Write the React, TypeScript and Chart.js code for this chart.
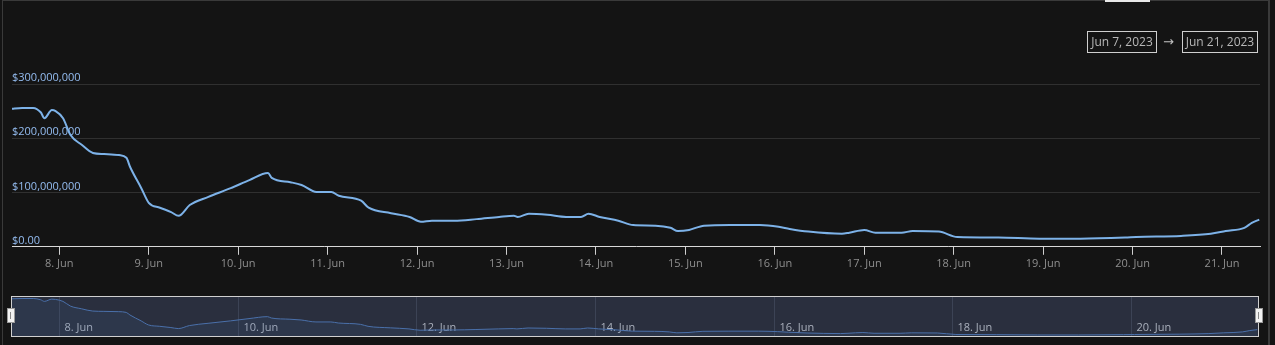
import React, { useEffect, useRef } from 'react';
import { Chart, registerables } from 'chart.js';

Chart.register(...registerables);

// Time axis: hours since Jun 7, 2023 00:00
const hours = [11, 14, 17, 19, 20, 22, 23, 25, 27, 30, 33, 36, 40, 42, 43, 46, 48, 51, 54, 56, 59, 64, 70, 75, 80, 81, 86, 89, 93, 97, 99, 105, 107, 113, 118, 121, 124, 130, 136, 142, 146, 147, 150, 155, 160, 164, 166, 169, 174, 178, 184, 188, 190, 193, 197, 204, 212, 217, 220, 225, 234, 236, 240, 243, 250, 253, 260, 265, 276, 287, 298, 310, 313, 325, 333, 337, 342, 344, 346];
// Values in millions of USD
const tvlMillions = [254, 256, 256, 248, 237, 252, 250, 237, 206, 188, 173, 171, 169, 164, 147, 108, 81, 72, 64, 57, 77, 92, 108, 123, 136, 127, 119, 114, 101, 101, 94, 85, 72, 62, 55, 46, 48, 48, 51, 55, 57, 55, 61, 59, 55, 55, 61, 55, 48, 40, 39, 35, 29, 31, 39, 40, 40, 37, 33, 28, 24, 26, 31, 26, 26, 29, 28, 18, 17, 15, 15, 17, 18, 20, 24, 29, 35, 44, 50];

const X_MIN = 11.3;
const X_MAX = 346.2;
const dayTickHours = [24, 48, 72, 96, 120, 144, 168, 192, 216, 240, 264, 288, 312, 336];
const navTickHours = [24, 72, 120, 168, 216, 264, 312];
const yTicks = [0, 100, 200, 300];
const startLabel = 'Jun 7, 2023';
const endLabel = 'Jun 21, 2023';

const LINE = '#7db2e8';
const FONT = '"Open Sans", "Noto Sans", sans-serif';

const dayLabel = (h: number) => `${7 + Math.round(h / 24)}. Jun`;

export default function App() {
  const mainRef = useRef<HTMLCanvasElement>(null);
  const navRef = useRef<HTMLCanvasElement>(null);

  useEffect(() => {
    Chart.defaults.font.family = FONT;
    const points = hours.map((h, i) => ({ x: h, y: tvlMillions[i] }));

    const main = new Chart(mainRef.current!, {
      type: 'line',
      data: {
        datasets: [
          {
            data: points,
            borderColor: LINE,
            borderWidth: 2,
            pointRadius: 0,
            cubicInterpolationMode: 'monotone',
            fill: false,
          },
        ],
      },
      options: {
        animation: false,
        responsive: false,
        maintainAspectRatio: false,
        layout: { padding: { left: 12, right: 15, top: 84, bottom: 8 } },
        plugins: { legend: { display: false }, tooltip: { enabled: false } },
        scales: {
          x: {
            type: 'linear',
            min: X_MIN,
            max: X_MAX,
            afterBuildTicks: (s: any) => {
              s.ticks = dayTickHours.map((v) => ({ value: v }));
            },
            ticks: {
              callback: (v: any) => dayLabel(Number(v)),
              color: '#8f8f8f',
              font: { size: 11 },
              padding: 2,
              maxRotation: 0,
              autoSkip: false,
            },
            grid: { drawOnChartArea: false, drawTicks: true, tickLength: 8, color: '#cfcfcf' },
            border: { display: true, color: '#d8d8d8', width: 1 },
          },
          y: {
            min: 0,
            max: 300,
            afterBuildTicks: (s: any) => {
              s.ticks = yTicks.map((v) => ({ value: v }));
            },
            ticks: {
              mirror: true,
              labelOffset: -6,
              padding: 0,
              color: '#94bcf0',
              font: { size: 11 },
              callback: (v: any) => (Number(v) === 0 ? '$0.00' : '$' + (Number(v) * 1e6).toLocaleString('en-US')),
            },
            grid: { color: '#303030', drawTicks: false },
            border: { display: false },
          },
        },
      },
    });

    const navPlugin = {
      id: 'navBg',
      beforeDatasetsDraw(chart: any) {
        const { ctx, chartArea: a, scales } = chart;
        const x = scales.x;
        ctx.save();
        ctx.fillStyle = '#2a2f3e';
        ctx.fillRect(a.left, a.top, a.right - a.left, a.bottom - a.top);
        ctx.strokeStyle = '#3c4355';
        ctx.lineWidth = 1;
        ctx.font = `11px ${FONT}`;
        ctx.textBaseline = 'alphabetic';
        ctx.textAlign = 'left';
        navTickHours.forEach((v) => {
          const px = Math.round(x.getPixelForValue(v)) + 0.5;
          ctx.beginPath();
          ctx.moveTo(px, a.top);
          ctx.lineTo(px, a.bottom);
          ctx.stroke();
          ctx.fillStyle = '#aab0bc';
          ctx.fillText(dayLabel(v), px + 5, a.top + 34);
        });
        ctx.restore();
      },
    };

    const nav = new Chart(navRef.current!, {
      type: 'line',
      data: {
        datasets: [
          {
            data: points,
            borderColor: '#4a70aa',
            borderWidth: 1,
            pointRadius: 0,
            cubicInterpolationMode: 'monotone',
            fill: 'start',
            backgroundColor: 'rgba(74,112,170,0.12)',
          },
        ],
      },
      options: {
        animation: false,
        responsive: false,
        maintainAspectRatio: false,
        layout: { padding: 0 },
        plugins: { legend: { display: false }, tooltip: { enabled: false } },
        scales: {
          x: { type: 'linear', min: X_MIN, max: X_MAX, display: false },
          y: { min: 8, max: 266, display: false },
        },
      },
      plugins: [navPlugin],
    });

    return () => {
      main.destroy();
      nav.destroy();
    };
  }, []);

  const boxStyle: React.CSSProperties = {
    position: 'absolute',
    top: 31,
    height: 22,
    boxSizing: 'border-box',
    border: '1px solid #cfcfcf',
    color: '#b8b8b8',
    fontFamily: FONT,
    fontSize: 12,
    lineHeight: '20px',
    textAlign: 'center',
  };
  const handleStyle: React.CSSProperties = {
    position: 'absolute',
    top: 308,
    width: 8,
    height: 15,
    boxSizing: 'border-box',
    background: '#f2f2f2',
    border: '1px solid #9a9a9a',
  };

  return (
    <div style={{ position: 'fixed', left: 0, top: 0, width: 1275, height: 345, background: '#141414', overflow: 'hidden' }}>
      <div style={{ position: 'absolute', left: 2, top: 0, width: 1268, height: 345, boxSizing: 'border-box', borderLeft: '1px solid #3a3a3a', borderRight: '2px solid #3a3a3a', borderTop: '1px solid #3a3a3a' }} />
      <div style={{ position: 'absolute', left: 1105, top: 0, width: 45, height: 2, background: '#e8e8e8' }} />
      <canvas ref={mainRef} width={1275} height={280} style={{ position: 'absolute', left: 0, top: 0 }} />
      <div style={{ ...boxStyle, left: 1087, width: 70 }}>{startLabel}</div>
      <div style={{ position: 'absolute', left: 1163, top: 31, color: '#c0c0c0', fontFamily: '"DejaVu Sans", sans-serif', fontSize: 13, lineHeight: '22px' }}>→</div>
      <div style={{ ...boxStyle, left: 1182, width: 76 }}>{endLabel}</div>
      <canvas ref={navRef} width={1246} height={39} style={{ position: 'absolute', left: 12, top: 297 }} />
      <div style={{ position: 'absolute', left: 11, top: 296, width: 1248, height: 41, boxSizing: 'border-box', border: '1px solid #d0d0d0' }} />
      <div style={{ ...handleStyle, left: 7 }}>
        <div style={{ position: 'absolute', left: 2, top: 3, width: 1, height: 7, background: '#888' }} />
      </div>
      <div style={{ ...handleStyle, left: 1255 }}>
        <div style={{ position: 'absolute', left: 2, top: 3, width: 1, height: 7, background: '#888' }} />
      </div>
    </div>
  );
}
